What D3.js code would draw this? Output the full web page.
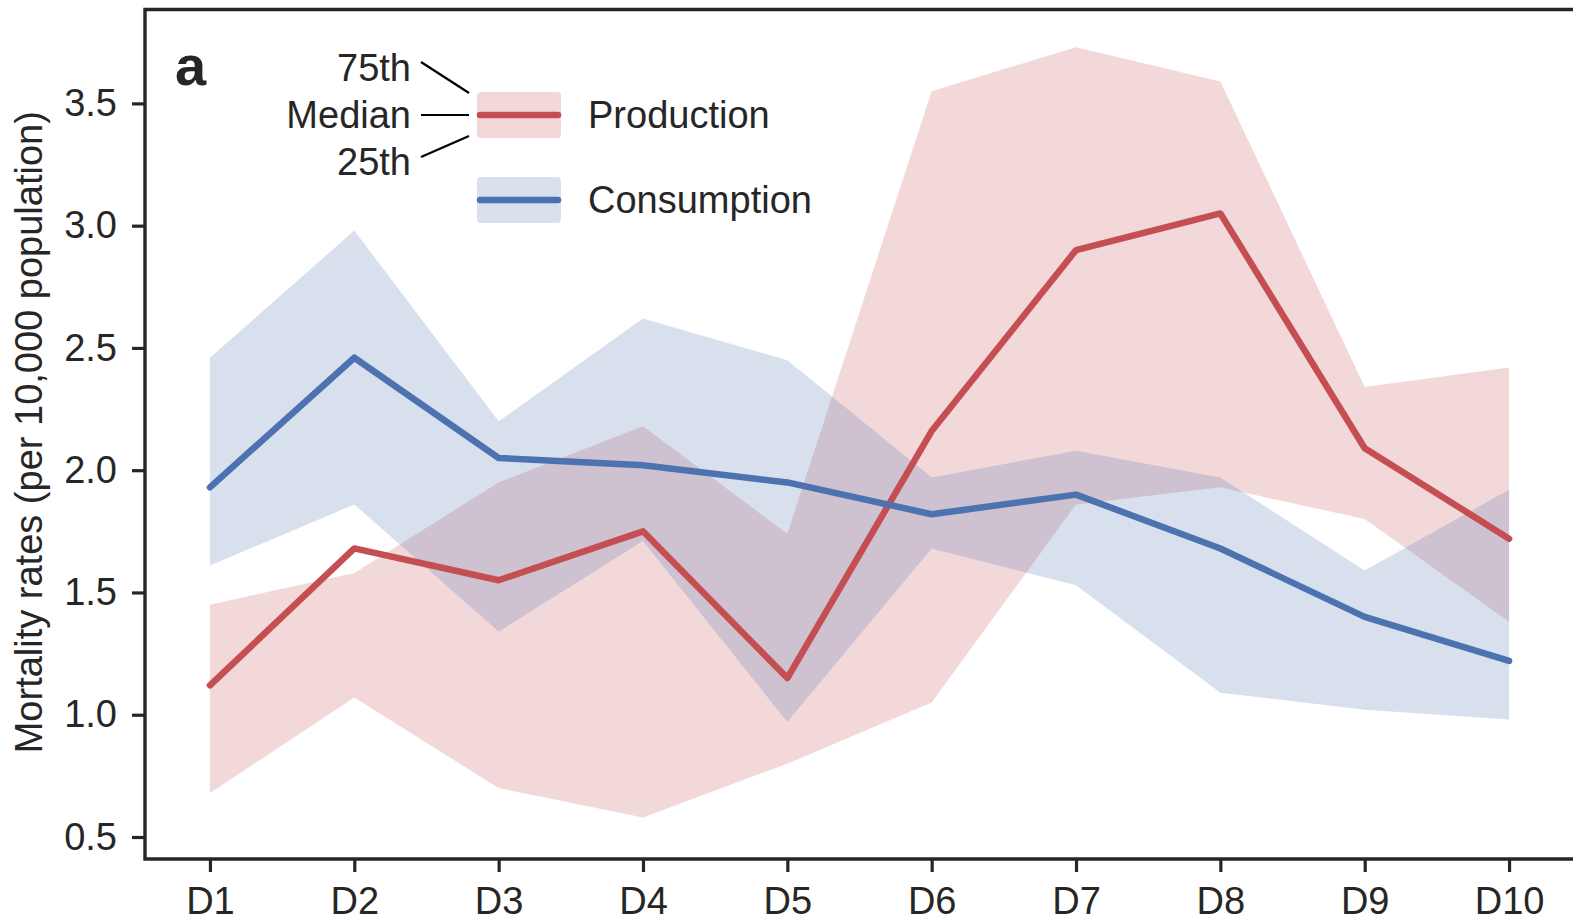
<!DOCTYPE html>
<html>
<head>
<meta charset="utf-8">
<script src="https://cdn.jsdelivr.net/npm/d3@7/dist/d3.min.js"></script>
<style>
  html, body { margin: 0; padding: 0; background: #fff; }
  svg { display: block; }
  text { font-family: "Liberation Sans", Arial, Helvetica, sans-serif; fill: #262626; }
</style>
</head>
<body>
<svg id="chart" width="1573" height="923"></svg>
<script>
// Deciles of income
const categories = ["D1", "D2", "D3", "D4", "D5", "D6", "D7", "D8", "D9", "D10"];

// Production-based mortality (per 10,000 population)
const productionMedian = [1.12, 1.68, 1.55, 1.75, 1.15, 2.16, 2.90, 3.05, 2.09, 1.72];
const productionP75    = [1.45, 1.58, 1.95, 2.18, 1.74, 3.55, 3.73, 3.59, 2.34, 2.42];
const productionP25    = [0.68, 1.07, 0.70, 0.58, 0.80, 1.05, 1.86, 1.93, 1.80, 1.38];

// Consumption-based mortality (per 10,000 population)
const consumptionMedian = [1.93, 2.46, 2.05, 2.02, 1.95, 1.82, 1.90, 1.68, 1.40, 1.22];
const consumptionP75    = [2.46, 2.98, 2.20, 2.62, 2.45, 1.97, 2.08, 1.97, 1.59, 1.92];
const consumptionP25    = [1.61, 1.86, 1.34, 1.71, 0.97, 1.68, 1.53, 1.09, 1.02, 0.98];

const yTicks = [0.5, 1.0, 1.5, 2.0, 2.5, 3.0, 3.5];
const seriesNames = ["Production", "Consumption"];
const bandLabels = ["75th", "Median", "25th"];

const RED = "#C44E52", BLUE = "#4C72B0", INK = "#262626";
const FS = "38px";

const svg = d3.select("#chart");
const plot = { left: 145, right: 1574, top: 9.5, bottom: 859 };

const x = d3.scaleLinear().domain([-0.45, categories.length - 1 + 0.45]).range([plot.left, plot.right]);
const y = d3.scaleLinear().domain([0.41, 3.884]).range([plot.bottom, plot.top]);

const series = [
  { name: seriesNames[0], color: RED, med: productionMedian, lo: productionP25, hi: productionP75 },
  { name: seriesNames[1], color: BLUE, med: consumptionMedian, lo: consumptionP25, hi: consumptionP75 }
];

// Interquartile bands
const area = d3.area().x((d, i) => x(i)).y0(d => y(d[0])).y1(d => y(d[1]));
series.forEach(s => {
  svg.append("path")
    .datum(s.lo.map((v, i) => [v, s.hi[i]]))
    .attr("d", area)
    .attr("fill", s.color)
    .attr("fill-opacity", 0.22);
});

// Median lines
const line = d3.line().x((d, i) => x(i)).y(d => y(d));
series.forEach(s => {
  svg.append("path")
    .datum(s.med)
    .attr("d", line)
    .attr("fill", "none")
    .attr("stroke", s.color)
    .attr("stroke-width", 6.5)
    .attr("stroke-linecap", "round")
    .attr("stroke-linejoin", "round");
});

// Axes
const xAxis = d3.axisBottom(x)
  .tickValues(d3.range(categories.length))
  .tickFormat(i => categories[i])
  .tickSize(13).tickPadding(15).tickSizeOuter(0);
const yAxis = d3.axisLeft(y)
  .tickValues(yTicks)
  .tickFormat(d3.format(".1f"))
  .tickSize(13).tickPadding(15).tickSizeOuter(0);

const gx = svg.append("g").attr("transform", `translate(0,${plot.bottom})`).call(xAxis);
const gy = svg.append("g").attr("transform", `translate(${plot.left},0)`).call(yAxis);
[gx, gy].forEach(g => {
  g.select(".domain").remove();
  g.selectAll(".tick line").attr("stroke", INK).attr("stroke-width", 3.2);
  g.selectAll(".tick text").attr("fill", INK).style("font-size", FS);
});

// Frame (left, top, bottom spines)
svg.append("path")
  .attr("d", `M${plot.right + 2},${plot.top} H${plot.left} V${plot.bottom} H${plot.right + 2}`)
  .attr("fill", "none").attr("stroke", INK).attr("stroke-width", 3.4)
  .attr("stroke-linecap", "square");

// Y label
svg.append("text")
  .attr("transform", `translate(42,${(plot.top + plot.bottom) / 2 - 2}) rotate(-90)`)
  .attr("text-anchor", "middle")
  .style("font-size", FS)
  .text("Mortality rates (per 10,000 population)");

// Panel letter
svg.append("text")
  .attr("x", 175).attr("y", 85)
  .style("font-size", "56px").style("font-weight", "bold")
  .text("a");

// Legend
const legendRows = [115, 200];
series.forEach((s, i) => {
  const cy = legendRows[i];
  svg.append("rect")
    .attr("x", 477).attr("y", cy - 23).attr("width", 84).attr("height", 46)
    .attr("rx", 4).attr("fill", s.color).attr("fill-opacity", 0.22);
  svg.append("line")
    .attr("x1", 480).attr("x2", 558).attr("y1", cy).attr("y2", cy)
    .attr("stroke", s.color).attr("stroke-width", 6.5).attr("stroke-linecap", "round");
  svg.append("text")
    .attr("x", 588).attr("y", cy).attr("dy", "0.35em")
    .style("font-size", FS)
    .text(s.name);
});

// Percentile key
const keyY = [68, 115, 162];
const keyTarget = [93, 115, 136];
bandLabels.forEach((lab, i) => {
  svg.append("text")
    .attr("x", 411).attr("y", keyY[i]).attr("dy", "0.35em")
    .attr("text-anchor", "end")
    .style("font-size", FS)
    .text(lab);
  svg.append("line")
    .attr("x1", 421).attr("y1", i === 1 ? keyTarget[i] : keyY[i] + (i === 0 ? -6 : -5))
    .attr("x2", 469).attr("y2", keyTarget[i])
    .attr("stroke", "#000").attr("stroke-width", 2.2);
});
</script>
</body>
</html>
